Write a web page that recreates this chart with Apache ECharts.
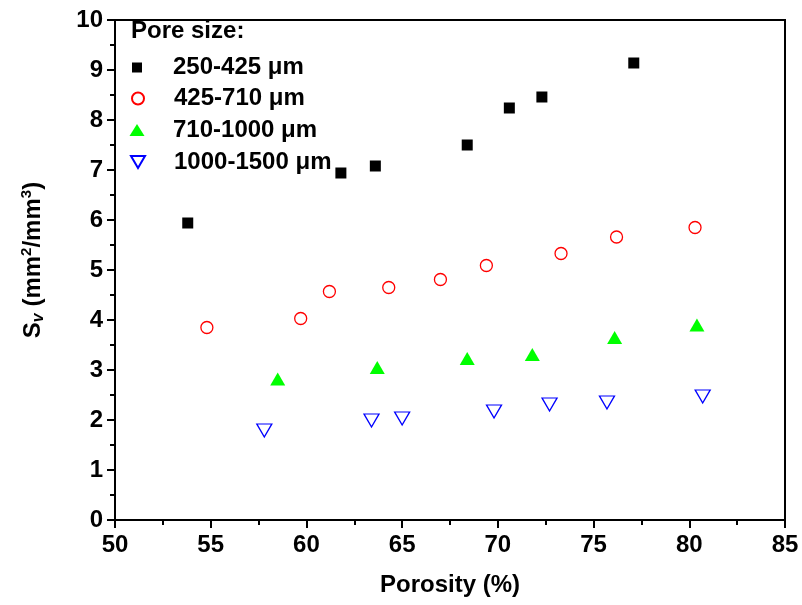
<!DOCTYPE html>
<html>
<head>
<meta charset="utf-8">
<script src="https://cdn.jsdelivr.net/npm/echarts@6/dist/echarts.min.js"></script>
<style>
html,body{margin:0;padding:0;background:#fff;}
#main{width:802px;height:605px;}
</style>
</head>
<body>
<div id="main"></div>
<script>
// ---- data ----
var seriesNames = ['250-425 \u03bcm', '425-710 \u03bcm', '710-1000 \u03bcm', '1000-1500 \u03bcm'];
var sq_x = [53.8, 61.8, 63.6, 68.4, 70.6, 72.3, 77.1];
var sq_y = [5.94, 6.94, 7.08, 7.50, 8.24, 8.46, 9.14];
var ci_x = [54.8, 59.7, 61.2, 64.3, 67.0, 69.4, 73.3, 76.2, 80.3];
var ci_y = [3.85, 4.03, 4.57, 4.65, 4.81, 5.09, 5.33, 5.66, 5.85];
var tr_x = [58.5, 63.7, 68.4, 71.8, 76.1, 80.4];
var tr_y = [2.82, 3.05, 3.23, 3.31, 3.65, 3.90];
var iv_x = [57.8, 63.4, 65.0, 69.8, 72.7, 75.7, 80.7];
var iv_y = [1.79, 1.99, 2.03, 2.17, 2.31, 2.35, 2.47];
var xTicks = [50, 55, 60, 65, 70, 75, 80, 85];
var yTicks = [0, 1, 2, 3, 4, 5, 6, 7, 8, 9, 10];

function pairs(xs, ys) { return xs.map(function (x, i) { return [x, ys[i]]; }); }

var FONT = "'Liberation Sans', Arial, sans-serif";
var invTri = 'path://M0,0 L20,0 L10,17 Z';

var chart = echarts.init(document.getElementById('main'), null, {renderer: 'canvas'});

// legend rows (one legend per row for exact icon sizes)
var rows = [
  {name: seriesNames[0], cy: 67.5, w: 10, h: 10},
  {name: seriesNames[1], cy: 98.5, w: 12, h: 12},
  {name: seriesNames[2], cy: 130, w: 15, h: 12},
  {name: seriesNames[3], cy: 162, w: 14, h: 12}
];
var iconCx = 137, textX = 173;
var legends = rows.map(function (r) {
  var left = iconCx - r.w / 2;
  return {
    data: [r.name],
    orient: 'vertical',
    left: left,
    top: r.cy - 12,
    padding: 0,
    itemWidth: r.w,
    itemHeight: r.h,
    selectedMode: false,
    textStyle: {
      fontFamily: FONT, fontSize: 24, fontWeight: 'bold', color: '#000',
      lineHeight: 24, padding: [0, 0, 0, textX - (left + r.w + 5)]
    }
  };
});

var option = {
  animation: false,
  backgroundColor: '#fff',
  title: {
    text: 'Pore size:',
    left: 131, top: 19, padding: 0,
    textStyle: {fontFamily: FONT, fontSize: 24, fontWeight: 'bold', color: '#000'}
  },
  legend: legends,
  grid: {
    left: 115, right: 17, top: 20, bottom: 85,
    show: true, borderColor: '#000', borderWidth: 2, backgroundColor: 'transparent'
  },
  xAxis: {
    type: 'value', min: xTicks[0], max: xTicks[xTicks.length - 1], interval: 5,
    name: 'Porosity (%)', nameLocation: 'middle', nameGap: 53,
    nameTextStyle: {fontFamily: FONT, fontSize: 24, fontWeight: 'bold', color: '#000'},
    axisLine: {show: true, onZero: false, lineStyle: {color: '#000', width: 2}},
    axisTick: {show: true, inside: false, length: 8, lineStyle: {color: '#000', width: 2}},
    minorTick: {show: true, splitNumber: 2, length: 5, lineStyle: {color: '#000', width: 2}},
    splitLine: {show: false},
    axisLabel: {fontFamily: FONT, fontSize: 24, fontWeight: 'bold', color: '#000', margin: 13}
  },
  yAxis: {
    type: 'value', min: yTicks[0], max: yTicks[yTicks.length - 1], interval: 1,
    name: '{a|S}{b|v}{a| (mm}{c|2}{a|/mm}{c|3}{a|)}',
    nameLocation: 'middle', nameGap: 68, nameRotate: 90,
    nameTextStyle: {
      fontFamily: FONT, color: '#000', padding: [0, 0, 0, 20],
      rich: {
        a: {fontFamily: FONT, fontSize: 24, fontWeight: 'bold', color: '#000', lineHeight: 28},
        b: {fontFamily: FONT, fontSize: 16, fontWeight: 'bold', fontStyle: 'italic', color: '#000', lineHeight: 16, verticalAlign: 'bottom'},
        c: {fontFamily: FONT, fontSize: 15, fontWeight: 'bold', color: '#000', lineHeight: 15, verticalAlign: 'top'}
      }
    },
    axisLine: {show: true, onZero: false, lineStyle: {color: '#000', width: 2}},
    axisTick: {show: true, inside: false, length: 8, lineStyle: {color: '#000', width: 2}},
    minorTick: {show: true, splitNumber: 2, length: 5, lineStyle: {color: '#000', width: 2}},
    splitLine: {show: false},
    axisLabel: {fontFamily: FONT, fontSize: 24, fontWeight: 'bold', color: '#000', margin: 12}
  },
  series: [
    {
      name: seriesNames[0], type: 'scatter', data: pairs(sq_x, sq_y),
      symbol: 'rect', symbolSize: 11,
      itemStyle: {color: '#000', opacity: 1}
    },
    {
      name: seriesNames[1], type: 'scatter', data: pairs(ci_x, ci_y),
      symbol: 'circle', symbolSize: 12,
      itemStyle: {color: '#fff', borderColor: '#ff0000', borderWidth: 1.3, opacity: 1}
    },
    {
      name: seriesNames[2], type: 'scatter', data: pairs(tr_x, tr_y),
      symbol: 'triangle', symbolSize: [15, 13],
      itemStyle: {color: '#00ff00', opacity: 1}
    },
    {
      name: seriesNames[3], type: 'scatter', data: pairs(iv_x, iv_y),
      symbol: invTri, symbolSize: [15, 13],
      itemStyle: {color: '#fff', borderColor: '#0000ff', borderWidth: 1.3, opacity: 1}
    }
  ]
};
chart.setOption(option);
</script>
</body>
</html>
